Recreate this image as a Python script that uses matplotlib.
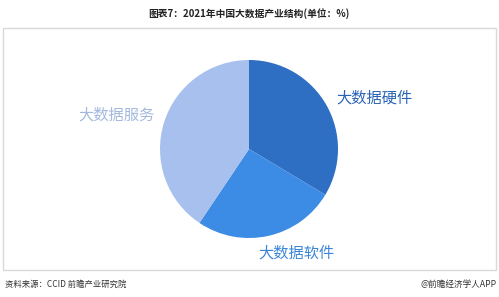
import matplotlib.pyplot as plt
from matplotlib.patches import Rectangle

plt.rcParams['font.family'] = ['Noto Sans CJK SC', 'DejaVu Sans']

# ==========================
# Data
# ==========================

categories = ["大数据硬件", "大数据软件", "大数据服务"]
shares = [33.6, 25.8, 40.6]
colors = ["#2F6FC3", "#3C8BE5", "#A7C0EE"]
label_colors = ["#2A64B5", "#3C86DA", "#A3B8DE"]

title = "图表7：2021年中国大数据产业结构(单位：%)"
source = "资料来源：CCID 前瞻产业研究院"
brand = "@前瞻经济学人APP"

W, H = 499, 297

fig = plt.figure(figsize=(W / 100, H / 100), dpi=100)
fig.patch.set_facecolor("white")

# frame around chart area
fig.add_artist(Rectangle(
    (3 / W, 1 - 270 / H), 493 / W, 242 / H,
    transform=fig.transFigure,
    fill=False, edgecolor="#D9D9D9", linewidth=1
))

# ==========================
# Pie
# ==========================

r = 89
cx, cy = 249, 149
ax = fig.add_axes([(cx - r) / W, 1 - (cy + r) / H, 2 * r / W, 2 * r / H])

ax.pie(
    shares,
    colors=colors,
    startangle=90,
    counterclock=False,
    radius=1.0,
    wedgeprops=dict(linewidth=0)
)
ax.set_xlim(-1, 1)
ax.set_ylim(-1, 1)
ax.set_aspect("equal")
ax.axis("off")

# labels
label_pos = [(374, 98), (296, 253), (116, 115)]
for name, (lx, ly), c in zip(categories, label_pos, label_colors):
    fig.text(lx / W, 1 - ly / H, name, color=c, fontsize=11,
             ha="center", va="center")

# ==========================
# Title & footer
# ==========================

fig.text(249 / W, 1 - 14 / H, title, ha="center", va="center",
         fontsize=7, fontweight="bold", color="#222222")

fig.text(5 / W, 1 - 284 / H, source, ha="left", va="center",
         fontsize=6, color="#333333")

fig.text(497 / W, 1 - 284 / H, brand, ha="right", va="center",
         fontsize=6.2, color="#333333")

fig.savefig("out.png", dpi=100)
